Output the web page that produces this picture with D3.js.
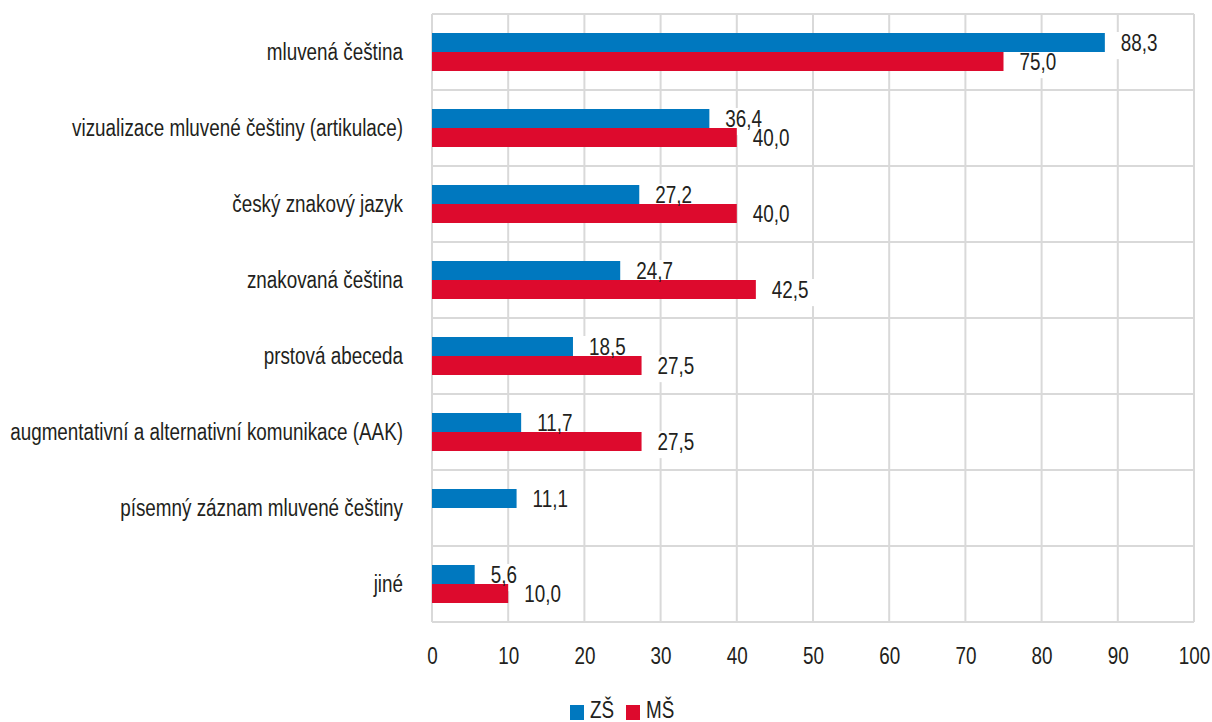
<!DOCTYPE html>
<html>
<head>
<meta charset="utf-8">
<script src="https://cdn.jsdelivr.net/npm/d3@7"></script>
<style>
  html, body { margin: 0; padding: 0; background: #fff; }
  svg { display: block; }
  text { font-family: "Liberation Sans", Arial, sans-serif; fill: #231f20; }
</style>
</head>
<body>
<svg id="chart" width="1212" height="722"></svg>
<script>
const categories = [
  "mluvená čeština",
  "vizualizace mluvené češtiny (artikulace)",
  "český znakový jazyk",
  "znakovaná čeština",
  "prstová abeceda",
  "augmentativní a alternativní komunikace (AAK)",
  "písemný záznam mluvené češtiny",
  "jiné"
];
const seriesNames = ["ZŠ", "MŠ"];
const valuesZS = [88.3, 36.4, 27.2, 24.7, 18.5, 11.7, 11.1, 5.6];
const valuesMS = [75.0, 40.0, 40.0, 42.5, 27.5, 27.5, null, 10.0];
const xTicks = [0, 10, 20, 30, 40, 50, 60, 70, 80, 90, 100];
const colors = ["#0078bf", "#dd0a2d"];

(function () {
const svg = d3.select("#chart");
const mLeft = 432, mRight = 1194, mTop = 14, mBottom = 622;
const fs = 23;
const sx = 0.82; // horizontal condensing

const x = d3.scaleLinear().domain([0, 100]).range([mLeft, mRight]);
const y0 = d3.scaleBand().domain(categories).range([mTop, mBottom]).paddingInner(0.5).paddingOuter(0.25);
const y1 = d3.scaleBand().domain(seriesNames).range([0, y0.bandwidth()]);
const step = y0.step();

// gridlines
const grid = svg.append("g").attr("stroke", "#d9d9d9").attr("stroke-width", 2);
grid.selectAll("line.v").data(xTicks).join("line")
  .attr("x1", d => x(d)).attr("x2", d => x(d))
  .attr("y1", mTop).attr("y2", mBottom);
grid.selectAll("line.h").data(d3.range(categories.length + 1)).join("line")
  .attr("x1", mLeft).attr("x2", mRight)
  .attr("y1", i => mTop + i * step).attr("y2", i => mTop + i * step);

const items = [];
categories.forEach((c, i) => {
  [valuesZS[i], valuesMS[i]].forEach((v, j) => {
    if (v !== null && v !== undefined) items.push({ cat: c, s: seriesNames[j], v, j });
  });
});

const fmt = v => d3.format(".1f")(v).replace(".", ",");

const labelG = svg.append("g");
const barsG = svg.append("g");
const textG = svg.append("g");

barsG.selectAll("rect").data(items).join("rect")
  .attr("x", x(0))
  .attr("y", d => y0(d.cat) + y1(d.s))
  .attr("width", d => x(d.v) - x(0))
  .attr("height", y1.bandwidth())
  .attr("fill", d => colors[d.j]);

const texts = textG.selectAll("text").data(items).join("text")
  .attr("transform", d => `translate(${x(d.v) + 16},${y0(d.cat) + y1(d.s) + y1.bandwidth() / 2}) scale(${sx},1)`)
  .attr("dy", "0.36em")
  .attr("font-size", fs)
  .text(d => fmt(d.v));

texts.each(function (d) {
  const bb = this.getBBox();
  const cy = y0(d.cat) + y1(d.s) + y1.bandwidth() / 2;
  const tx0 = x(d.v) + 16;
  labelG.append("rect")
    .attr("x", x(d.v) + 4)
    .attr("y", cy + bb.y + 2)
    .attr("width", tx0 + bb.width * sx + 6 - (x(d.v) + 4))
    .attr("height", bb.height + 2)
    .attr("fill", "#fff");
});

// category labels
svg.append("g").selectAll("text").data(categories).join("text")
  .attr("transform", d => `translate(${mLeft - 29},${y0(d) + y0.bandwidth() / 2}) scale(${sx},1)`)
  .attr("dy", "0.36em")
  .attr("text-anchor", "end")
  .attr("font-size", fs)
  .text(d => d);

// x axis
const xAxis = d3.axisBottom(x).tickValues(xTicks).tickSize(0).tickPadding(0).tickFormat(d3.format("d"));
const ax = svg.append("g").attr("transform", `translate(0, ${mBottom})`).call(xAxis);
ax.select(".domain").remove();
ax.selectAll("text")
  .attr("y", 42).attr("dy", 0)
  .attr("transform", `scale(${sx},1)`)
  .attr("font-size", fs)
  .style("font-family", "\"Liberation Sans\", Arial, sans-serif")
  .attr("fill", "#231f20");

// legend
const legend = svg.append("g");
const legX = [570, 626];
seriesNames.forEach((s, j) => {
  legend.append("rect").attr("x", legX[j]).attr("y", 705).attr("width", 14).attr("height", 15).attr("fill", colors[j]);
  legend.append("text")
    .attr("transform", `translate(${legX[j] + 20},718) scale(${sx},1)`)
    .attr("font-size", fs).text(s);
});
})();
</script>
</body>
</html>
